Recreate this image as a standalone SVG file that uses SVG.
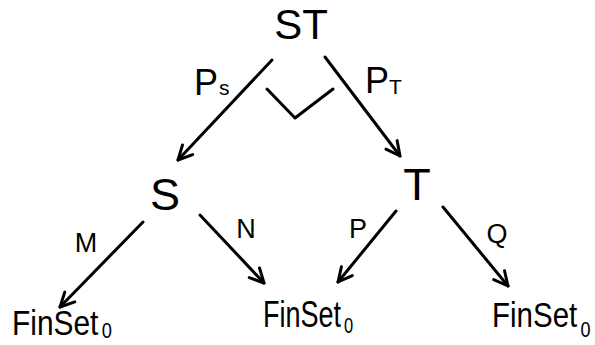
<svg xmlns="http://www.w3.org/2000/svg" width="595" height="345" viewBox="0 0 595 345">
  <style>
    text { font-family: "Liberation Sans", Arial, sans-serif; fill: #000; }
    .obj { font-size: 45px; text-anchor: middle; }
    .top { font-size: 42px; text-anchor: middle; }
    .fin { font-size: 36px; }
    .sub { font-size: 22px; }
    .psub { font-size: 21px; }
    .lbl { font-size: 27px; text-anchor: middle; }
    .plbl { font-size: 36px; }
    .edge { stroke: #000; stroke-width: 3; fill: none; stroke-linecap: round; stroke-linejoin: round; marker-end: url(#head); }
  </style>
  <defs>
    <marker id="head" markerUnits="userSpaceOnUse" markerWidth="40" markerHeight="40" refX="0" refY="0" viewBox="-20 -20 40 40" orient="auto" overflow="visible">
      <path d="M -14 -7 L 0 0 L -14 7" stroke="#000" stroke-width="3" fill="none" stroke-linecap="round" stroke-linejoin="round"/>
    </marker>
  </defs>
  <rect width="595" height="345" fill="#fff"/>

  <g id="connectors">
    <line class="edge" x1="272" y1="60" x2="178" y2="160"/>
    <line class="edge" x1="325" y1="57" x2="400" y2="156"/>
    <line class="edge" x1="143" y1="222" x2="60" y2="307"/>
    <line class="edge" x1="200" y1="215" x2="264" y2="283"/>
    <line class="edge" x1="396" y1="211" x2="338" y2="282"/>
    <line class="edge" x1="443" y1="207" x2="508" y2="286"/>
    <!-- pullback corner mark -->
    <polyline points="267,89 295,118 333,89" stroke="#000" stroke-width="3" fill="none" stroke-linecap="round" stroke-linejoin="round"/>
  </g>

  <g id="labels">
    <text class="plbl" x="194" y="95">P<tspan class="psub" dx="1">s</tspan></text>
    <text class="plbl" x="365" y="93">P<tspan class="psub" dx="0" dy="1">T</tspan></text>
    <text class="lbl" x="86" y="252">M</text>
    <text class="lbl" x="246" y="238">N</text>
    <text class="lbl" x="358" y="238">P</text>
    <text class="lbl" x="497" y="243">Q</text>
  </g>

  <g id="node-ST"><text class="top" x="301" y="39">ST</text></g>
  <g id="node-S"><text class="obj" x="165" y="210">S</text></g>
  <g id="node-T"><text class="obj" x="417" y="200">T</text></g>

  <g id="node-finset-left">
    <text class="fin" transform="translate(12 335) scale(0.83 1)">FinSet<tspan class="sub" dx="4" dy="3">0</tspan></text>
  </g>
  <g id="node-finset-mid">
    <text class="fin" transform="translate(263 327) scale(0.75 1)">FinSet<tspan class="sub" dx="4" dy="6">0</tspan></text>
  </g>
  <g id="node-finset-right">
    <text class="fin" transform="translate(492 327) scale(0.82 1)">FinSet<tspan class="sub" dx="4" dy="10">0</tspan></text>
  </g>
</svg>
